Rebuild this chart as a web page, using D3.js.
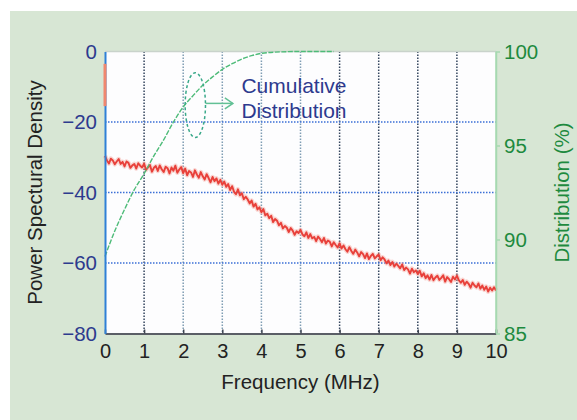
<!DOCTYPE html>
<html>
<head>
<meta charset="utf-8">
<script src="https://cdn.jsdelivr.net/npm/d3@7"></script>
<style>
  body { margin: 0; background: #fff; }
  svg { display: block; font-family: "Liberation Sans", Arial, sans-serif; }
</style>
</head>
<body>
<svg id="chart"></svg>
<script>
const width = 577;
const height = 420;

// x axis ticks (MHz)
const freqTicks = [0, 1, 2, 3, 4, 5, 6, 7, 8, 9, 10];
const psdTicks = [0, -20, -40, -60, -80];
const distTicks = [100, 95, 90, 85];
const psdGrid = [-20, -40, -60];
const freqGrid = [1, 2, 3, 4, 5, 6, 7, 8, 9];

// power spectral density, one reading every 0.05 MHz from 0 to 10
const psdStep = 0.05;
const psdValues = [
  -29.6, -30.9, -31.8, -30.4, -30.9, -32.0, -31.2, -30.5, -31.9, -31.3,
  -32.6, -31.2, -31.6, -33.0, -32.3, -31.9, -33.2, -31.7, -32.4, -32.9,
  -31.8, -33.6, -32.9, -32.2, -34.1, -33.0, -32.5, -33.9, -32.3, -33.4,
  -34.2, -32.7, -33.1, -34.6, -32.9, -33.8, -32.4, -34.4, -33.5, -32.8,
  -34.5, -33.2, -35.1, -33.9, -34.3, -35.6, -33.7, -34.9, -35.8, -34.2,
  -35.4, -36.3, -34.8, -35.9, -37.1, -35.6, -36.8, -36.0, -37.5, -36.4,
  -37.8, -36.9, -38.4, -37.6, -39.3, -38.2, -39.8, -40.5, -39.1, -40.8,
  -40.2, -41.9, -41.2, -42.0, -43.1, -42.3, -44.0, -43.2, -44.8, -44.2,
  -45.6, -44.7, -46.5, -46.0, -47.3, -46.6, -48.4, -47.5, -48.0, -49.3,
  -48.6, -50.2, -49.5, -50.0, -51.2, -50.1, -50.8, -52.0, -51.0, -51.5,
  -50.6, -51.9, -52.4, -51.3, -52.9, -51.8, -53.0, -52.6, -53.8, -52.5,
  -53.2, -54.1, -52.9, -54.5, -53.6, -54.0, -55.3, -54.1, -54.9, -55.6,
  -54.4, -55.9, -55.0, -56.1, -56.8, -55.5, -56.6, -57.4, -56.2, -57.0,
  -58.1, -56.9, -57.5, -58.6, -57.3, -58.9, -58.0, -57.4, -58.7, -58.1,
  -57.6, -59.2, -58.4, -59.0, -60.1, -59.3, -60.6, -59.7, -61.0, -60.2,
  -60.8, -61.5, -60.4, -62.0, -61.3, -61.8, -63.0, -61.6, -62.6, -62.1,
  -63.1, -62.2, -63.8, -62.9, -64.3, -63.5, -64.7, -63.4, -64.9, -64.1,
  -63.6, -64.8, -64.2, -63.5, -65.3, -64.0, -64.6, -65.4, -63.9, -64.7,
  -63.6, -64.9, -65.6, -64.8, -66.2, -65.3, -65.9, -67.0, -65.6, -66.4,
  -66.9, -65.8, -67.3, -66.4, -67.6, -66.7, -68.1, -67.0, -67.8, -66.9,
  -67.8
];
// the DC spike at 0 MHz
const dcSpike = [-3.5, -15.5];

// cumulative distribution (%)
const cdfFreq = [0, 0.25, 0.5, 0.75, 1, 1.25, 1.5, 1.75, 2, 2.25, 2.5, 2.75, 3, 3.25, 3.5, 3.75, 4, 4.5, 5, 5.5, 5.85];
const cdfValues = [89.1, 90.45, 91.6, 92.65, 93.5, 94.45, 95.3, 96.25, 97.05, 97.65, 98.2, 98.65, 99.05, 99.35, 99.6, 99.78, 99.9, 99.98, 100, 100, 100];

const margin = {top: 51.5, right: 81, bottom: 86.5, left: 105};
const iw = width - margin.left - margin.right;
const ih = height - margin.top - margin.bottom;

const svg = d3.select('#chart').attr('width', width).attr('height', height);

// green panel
svg.append('rect').attr('x', 10).attr('y', 11).attr('width', width - 10).attr('height', height - 11)
  .attr('fill', '#d7e6d4');

const g = svg.append('g').attr('transform', 'translate(' + margin.left + ',' + margin.top + ')');

const x = d3.scaleLinear().domain([0, 10]).range([0, iw]);
const y = d3.scaleLinear().domain([-80, 0]).range([ih, 0]);
const yR = d3.scaleLinear().domain([85, 100]).range([ih, 0]);

g.append('rect').attr('width', iw).attr('height', ih).attr('fill', '#fdfdfe');

// grid
g.selectAll('.vgrid').data(freqGrid).enter().append('line')
  .attr('x1', d => x(d)).attr('x2', d => x(d)).attr('y1', 0).attr('y2', ih)
  .attr('stroke', d => (d >= 2 && d <= 5) ? '#7f9db3' : '#34465e')
  .attr('stroke-width', 1.5)
  .attr('stroke-dasharray', '1.5,1.5');

g.selectAll('.hgrid').data(psdGrid).enter().append('line')
  .attr('x1', 0).attr('x2', iw).attr('y1', d => y(d)).attr('y2', d => y(d))
  .attr('stroke', '#3b6fd6').attr('stroke-width', 1.5)
  .attr('stroke-dasharray', '1.5,1.5');

// plot frame
g.append('line').attr('x1', 0).attr('x2', iw).attr('y1', 0).attr('y2', 0).attr('stroke', '#c9d3cb').attr('stroke-width', 1.5);
g.append('line').attr('x1', iw).attr('x2', iw).attr('y1', 0).attr('y2', ih).attr('stroke', '#a6d9b1').attr('stroke-width', 1.5);

// PSD line
const psdData = psdValues.map((v, i) => [i * psdStep, v]);
const psdLine = d3.line().x(d => x(d[0])).y(d => y(d[1]));
g.append('path').datum(psdData).attr('d', psdLine)
  .attr('fill', 'none').attr('stroke', '#f29a92').attr('stroke-width', 4.5).attr('stroke-opacity', 0.4)
  .attr('stroke-linejoin', 'round');
g.append('path').datum(psdData).attr('d', psdLine)
  .attr('fill', 'none').attr('stroke', '#e8403a').attr('stroke-width', 1.9)
  .attr('stroke-linejoin', 'round');

// cumulative distribution
const cdfData = cdfFreq.map((f, i) => [f, cdfValues[i]]);
g.append('path').datum(cdfData)
  .attr('d', d3.line().x(d => x(d[0])).y(d => yR(d[1])).curve(d3.curveMonotoneX))
  .attr('fill', 'none').attr('stroke', '#4dbb78').attr('stroke-width', 1.4)
  .attr('stroke-dasharray', '5,1.5');

// axes
const xAxis = g.append('g').attr('transform', 'translate(0,' + ih + ')')
  .call(d3.axisBottom(x).tickValues(freqTicks).tickSizeInner(-4).tickSizeOuter(0).tickPadding(10).tickFormat(d3.format('d')));
xAxis.select('.domain').attr('stroke', '#5a5e66').attr('stroke-width', 2);
xAxis.selectAll('.tick line').attr('stroke', '#3d4450').attr('stroke-width', 1.5);
xAxis.selectAll('.tick text').attr('fill', '#222').attr('font-size', 20).attr('font-family', 'Liberation Sans, Arial, sans-serif');

const yAxis = g.append('g')
  .call(d3.axisLeft(y).tickValues(psdTicks).tickSize(0).tickPadding(8).tickFormat(d3.format('d')));
yAxis.select('.domain').attr('stroke', '#2f80d6').attr('stroke-width', 2);
yAxis.selectAll('.tick text').attr('fill', '#2d3a8e').attr('font-size', 20.5).attr('font-family', 'Liberation Sans, Arial, sans-serif');

const yAxisR = g.append('g').attr('transform', 'translate(' + iw + ',0)')
  .call(d3.axisRight(yR).tickValues(distTicks).tickSizeInner(4).tickSizeOuter(0).tickPadding(4).tickFormat(d3.format('d')));
yAxisR.select('.domain').attr('stroke', '#a6d9b1').attr('stroke-width', 1.5);
yAxisR.selectAll('.tick line').attr('stroke', '#a6d9b1').attr('stroke-width', 1.5);
yAxisR.selectAll('.tick text').attr('fill', '#1e8a3e').attr('font-size', 20.5).attr('font-family', 'Liberation Sans, Arial, sans-serif');

// DC spike drawn over the left axis
g.append('line').attr('x1', x(0)).attr('x2', x(0)).attr('y1', y(dcSpike[0])).attr('y2', y(dcSpike[1]))
  .attr('stroke', '#f0876e').attr('stroke-width', 3);

// annotation: ellipse, arrow and label
const ann = {f: 2.31, v: 97.15, rf: 0.26, rv: 1.72};
g.append('ellipse')
  .attr('cx', x(ann.f)).attr('cy', yR(ann.v))
  .attr('rx', x(ann.f + ann.rf) - x(ann.f)).attr('ry', yR(ann.v - ann.rv) - yR(ann.v))
  .attr('fill', 'none').attr('stroke', '#3aa98a').attr('stroke-width', 1.5)
  .attr('stroke-dasharray', '3,2.5');

const arrowY = yR(97.24);
const ax0 = x(ann.f + ann.rf), ax1 = x(3.27);
g.append('line').attr('x1', ax0).attr('x2', ax1).attr('y1', arrowY).attr('y2', arrowY)
  .attr('stroke', '#62c095').attr('stroke-width', 1.5);
g.append('path')
  .attr('d', 'M' + (ax1 - 8) + ',' + (arrowY - 5.5) + 'L' + ax1 + ',' + arrowY + 'L' + (ax1 - 8) + ',' + (arrowY + 5.5))
  .attr('fill', 'none').attr('stroke', '#62c095').attr('stroke-width', 1.5);

g.append('text').attr('x', x(3.49)).attr('y', yR(97.78))
  .attr('fill', '#2d3a8e').attr('font-size', 21).text('Cumulative');
g.append('text').attr('x', x(3.49)).attr('y', yR(96.46))
  .attr('fill', '#2d3a8e').attr('font-size', 21).text('Distribution');

// axis titles
svg.append('text').attr('x', margin.left + iw / 2).attr('y', 389)
  .attr('text-anchor', 'middle').attr('fill', '#222').attr('font-size', 20.5)
  .text('Frequency (MHz)');

svg.append('text')
  .attr('transform', 'translate(42,' + (margin.top + ih / 2) + ') rotate(-90)')
  .attr('text-anchor', 'middle').attr('fill', '#222').attr('font-size', 20.5)
  .text('Power Spectural Density');

svg.append('text')
  .attr('transform', 'translate(569,' + (margin.top + ih / 2) + ') rotate(-90)')
  .attr('text-anchor', 'middle').attr('fill', '#1e8a3e').attr('font-size', 20.5)
  .text('Distribution (%)');
</script>
</body>
</html>
